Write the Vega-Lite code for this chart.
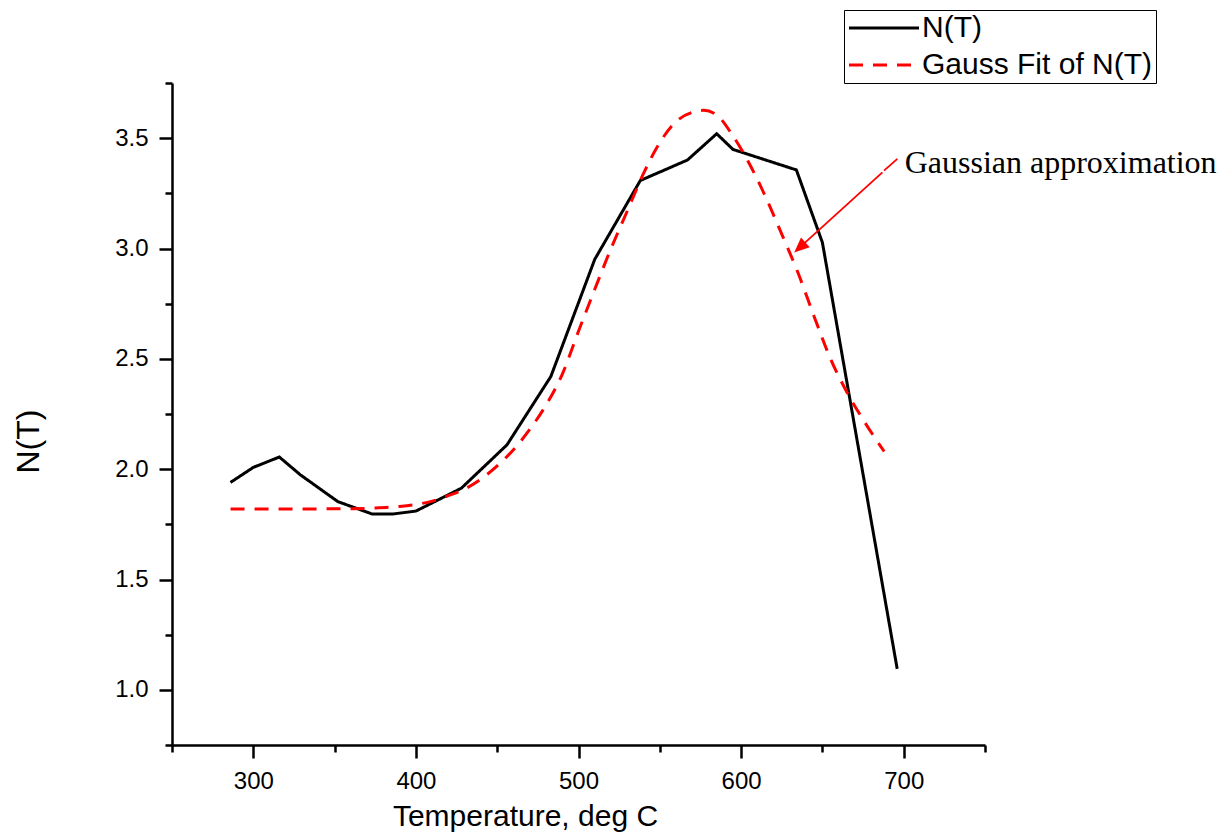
{
  "$schema": "https://vega.github.io/schema/vega-lite/v6.json",
  "width": 813,
  "height": 662,
  "autosize": "none",
  "padding": {"left": 172, "top": 83, "right": 247, "bottom": 91},
  "background": "white",
  "config": {"view": {"stroke": null}, "font": "Liberation Sans"},
  "datasets": {
    "curves": [
      {"series": "N(T)", "T": 286, "N": 1.94},
      {"series": "N(T)", "T": 300, "N": 2.008},
      {"series": "N(T)", "T": 316, "N": 2.055},
      {"series": "N(T)", "T": 329, "N": 1.974},
      {"series": "N(T)", "T": 352, "N": 1.853},
      {"series": "N(T)", "T": 373, "N": 1.797},
      {"series": "N(T)", "T": 386, "N": 1.797},
      {"series": "N(T)", "T": 400, "N": 1.81},
      {"series": "N(T)", "T": 428, "N": 1.914},
      {"series": "N(T)", "T": 456, "N": 2.11},
      {"series": "N(T)", "T": 483, "N": 2.42},
      {"series": "N(T)", "T": 510, "N": 2.951},
      {"series": "N(T)", "T": 538, "N": 3.308},
      {"series": "N(T)", "T": 567, "N": 3.401},
      {"series": "N(T)", "T": 585, "N": 3.52},
      {"series": "N(T)", "T": 595, "N": 3.449},
      {"series": "N(T)", "T": 634, "N": 3.356},
      {"series": "N(T)", "T": 650, "N": 3.027},
      {"series": "N(T)", "T": 696, "N": 1.095},
      {"series": "Gauss Fit of N(T)", "T": 286, "N": 1.82},
      {"series": "Gauss Fit of N(T)", "T": 300, "N": 1.82},
      {"series": "Gauss Fit of N(T)", "T": 320, "N": 1.82},
      {"series": "Gauss Fit of N(T)", "T": 340, "N": 1.82},
      {"series": "Gauss Fit of N(T)", "T": 360, "N": 1.821},
      {"series": "Gauss Fit of N(T)", "T": 375, "N": 1.824},
      {"series": "Gauss Fit of N(T)", "T": 390, "N": 1.831},
      {"series": "Gauss Fit of N(T)", "T": 400, "N": 1.84},
      {"series": "Gauss Fit of N(T)", "T": 410, "N": 1.855},
      {"series": "Gauss Fit of N(T)", "T": 420, "N": 1.88},
      {"series": "Gauss Fit of N(T)", "T": 430, "N": 1.91},
      {"series": "Gauss Fit of N(T)", "T": 440, "N": 1.955},
      {"series": "Gauss Fit of N(T)", "T": 450, "N": 2.015},
      {"series": "Gauss Fit of N(T)", "T": 460, "N": 2.088},
      {"series": "Gauss Fit of N(T)", "T": 470, "N": 2.18},
      {"series": "Gauss Fit of N(T)", "T": 480, "N": 2.29},
      {"series": "Gauss Fit of N(T)", "T": 490, "N": 2.43},
      {"series": "Gauss Fit of N(T)", "T": 500, "N": 2.625},
      {"series": "Gauss Fit of N(T)", "T": 510, "N": 2.815},
      {"series": "Gauss Fit of N(T)", "T": 520, "N": 3.0},
      {"series": "Gauss Fit of N(T)", "T": 530, "N": 3.17},
      {"series": "Gauss Fit of N(T)", "T": 540, "N": 3.34},
      {"series": "Gauss Fit of N(T)", "T": 550, "N": 3.48},
      {"series": "Gauss Fit of N(T)", "T": 560, "N": 3.575},
      {"series": "Gauss Fit of N(T)", "T": 570, "N": 3.617},
      {"series": "Gauss Fit of N(T)", "T": 577, "N": 3.626},
      {"series": "Gauss Fit of N(T)", "T": 585, "N": 3.605},
      {"series": "Gauss Fit of N(T)", "T": 595, "N": 3.51},
      {"series": "Gauss Fit of N(T)", "T": 605, "N": 3.385},
      {"series": "Gauss Fit of N(T)", "T": 615, "N": 3.235},
      {"series": "Gauss Fit of N(T)", "T": 625, "N": 3.065},
      {"series": "Gauss Fit of N(T)", "T": 635, "N": 2.89},
      {"series": "Gauss Fit of N(T)", "T": 645, "N": 2.69},
      {"series": "Gauss Fit of N(T)", "T": 655, "N": 2.5},
      {"series": "Gauss Fit of N(T)", "T": 665, "N": 2.35},
      {"series": "Gauss Fit of N(T)", "T": 675, "N": 2.225},
      {"series": "Gauss Fit of N(T)", "T": 688, "N": 2.08}
    ]
  },
  "layer": [
    {
      "data": {"name": "curves"},
      "transform": [{"filter": "datum.series === 'N(T)'"}],
      "mark": {"type": "line", "strokeWidth": 3, "strokeJoin": "miter"},
      "encoding": {
        "x": {
          "field": "T", "type": "quantitative",
          "scale": {"domain": [250, 750], "nice": false, "zero": false},
          "axis": {
            "title": "Temperature, deg C",
            "values": [250, 300, 350, 400, 450, 500, 550, 600, 650, 700, 750],
            "labelExpr": "datum.value % 100 === 0 ? datum.label : ''",
            "tickSize": {"condition": {"test": "datum.value % 100 === 0", "value": 13}, "value": 7},
            "tickColor": "black", "tickWidth": 2.5,
            "domainColor": "black", "domainWidth": 2.5,
            "grid": false,
            "labelFont": "Liberation Sans", "labelFontSize": 24, "labelColor": "black",
            "labelBaseline": "alphabetic", "labelPadding": 30,
            "labelOverlap": false, "labelFlush": false,
            "titleFont": "Liberation Sans", "titleFontSize": 30, "titleFontWeight": "normal", "titleColor": "black",
            "titleX": 353, "titleY": 80, "titleBaseline": "alphabetic", "titleAlign": "center"
          }
        },
        "y": {
          "field": "N", "type": "quantitative",
          "scale": {"domain": [0.75, 3.75], "nice": false, "zero": false},
          "axis": {
            "title": "N(T)",
            "values": [0.75, 1, 1.25, 1.5, 1.75, 2, 2.25, 2.5, 2.75, 3, 3.25, 3.5, 3.75],
            "labelExpr": "datum.value % 0.5 === 0 ? format(datum.value, '.1f') : ''",
            "tickSize": {"condition": {"test": "datum.value % 0.5 === 0", "value": 13}, "value": 7},
            "tickColor": "black", "tickWidth": 2.5,
            "domainColor": "black", "domainWidth": 2.5,
            "grid": false,
            "labelFont": "Liberation Sans", "labelFontSize": 24, "labelColor": "black",
            "labelBaseline": "middle", "labelPadding": 11,
            "labelOverlap": false, "labelFlush": false,
            "titleFont": "Liberation Sans", "titleFontSize": 32, "titleFontWeight": "normal", "titleColor": "black",
            "titleAngle": -90, "titleX": -144, "titleY": 358, "titleBaseline": "middle", "titleAlign": "center"
          }
        },
        "color": {
          "field": "series", "type": "nominal",
          "scale": {"domain": ["N(T)", "Gauss Fit of N(T)"], "range": ["#000000", "#ff0000"]},
          "legend": {
            "title": null, "orient": "none", "legendX": 672, "legendY": -73,
            "symbolType": "M-7,0H7", "symbolSize": 100, "symbolStrokeWidth": 3,
            "symbolOffset": 22, "labelOffset": 23,
            "labelFont": "Liberation Sans", "labelFontSize": 30, "labelColor": "black", "labelLimit": 400,
            "labelBaseline": "middle",
            "padding": 3, "rowPadding": 7, "strokeColor": "black"
          }
        },
        "strokeDash": {
          "field": "series", "type": "nominal",
          "scale": {"domain": ["N(T)", "Gauss Fit of N(T)"], "range": [[1, 0], [14, 10]]},
          "legend": {
            "title": null, "orient": "none", "legendX": 672, "legendY": -73,
            "symbolType": "M-7,0H7", "symbolSize": 100, "symbolStrokeWidth": 3,
            "symbolOffset": 22, "labelOffset": 23,
            "labelFont": "Liberation Sans", "labelFontSize": 30, "labelColor": "black", "labelLimit": 400,
            "labelBaseline": "middle",
            "padding": 3, "rowPadding": 7, "strokeColor": "black"
          }
        }
      }
    },
    {
      "data": {"name": "curves"},
      "transform": [{"filter": "datum.series !== 'N(T)'"}],
      "mark": {"type": "line", "strokeWidth": 3, "interpolate": "monotone"},
      "encoding": {
        "x": {"field": "T", "type": "quantitative"},
        "y": {"field": "N", "type": "quantitative"},
        "color": {"field": "series", "type": "nominal"},
        "strokeDash": {"field": "series", "type": "nominal"}
      }
    },
    {
      "data": {"values": [
        {"T": 696.1, "N": 3.406, "T2": 687.9, "N2": 3.353},
        {"T": 686.9, "N": 3.345, "T2": 636.1, "N2": 3.005}
      ]},
      "mark": {"type": "rule", "color": "#ff0000", "strokeWidth": 1.8},
      "encoding": {
        "x": {"field": "T", "type": "quantitative"},
        "y": {"field": "N", "type": "quantitative"},
        "x2": {"field": "T2"},
        "y2": {"field": "N2"}
      }
    },
    {
      "data": {"values": [{"T": 636.1, "N": 3.005}]},
      "mark": {"type": "point", "shape": "M0,-1L0.867,1L-0.867,1Z", "size": 225, "angle": 228, "filled": true, "color": "#ff0000", "opacity": 1, "strokeWidth": 0},
      "encoding": {
        "x": {"field": "T", "type": "quantitative"},
        "y": {"field": "N", "type": "quantitative"}
      }
    },
    {
      "data": {"values": [{"T": 700.6, "N": 3.341, "label": "Gaussian approximation"}]},
      "mark": {"type": "text", "font": "Liberation Serif", "fontSize": 32, "align": "left", "baseline": "alphabetic", "color": "black"},
      "encoding": {
        "x": {"field": "T", "type": "quantitative"},
        "y": {"field": "N", "type": "quantitative"},
        "text": {"field": "label"}
      }
    }
  ]
}
